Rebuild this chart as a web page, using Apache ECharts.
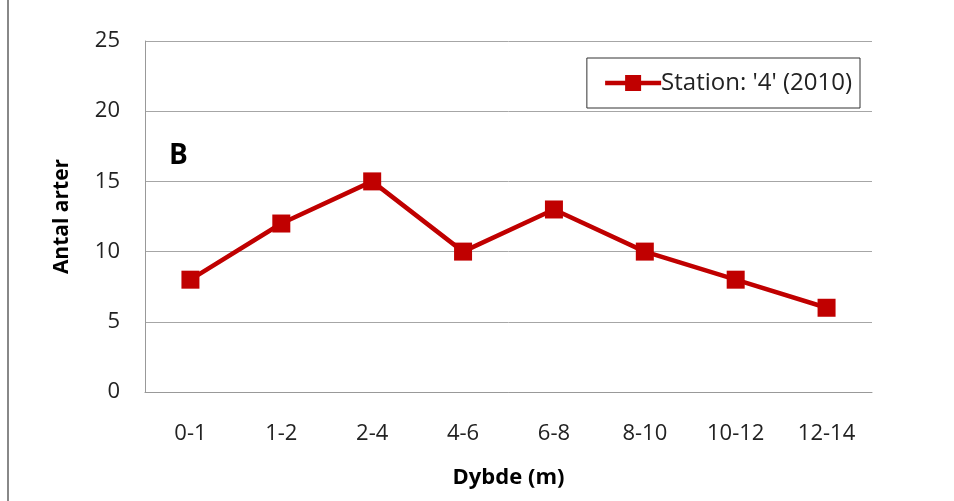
<!DOCTYPE html>
<html><head><meta charset="utf-8">
<script src="https://cdn.jsdelivr.net/npm/echarts@6/dist/echarts.min.js"></script>
<style>html,body{margin:0;padding:0;background:#fff}#c{width:954px;height:501px}</style>
</head><body><div id="c"></div>
<script>
var categories = ['0-1','1-2','2-4','4-6','6-8','8-10','10-12','12-14'];
var values = [8, 12, 15, 10, 13, 10, 8, 6];
var yTicks = [0, 5, 10, 15, 20, 25];
var seriesName = "Station: '4' (2010)";
var font = "'Open Sans', 'Liberation Sans', sans-serif";
var chart = echarts.init(document.getElementById('c'));
chart.setOption({
  animation: false,
  textStyle: {fontFamily: font},
  grid: {left: 145, right: 82, top: 41, bottom: 109, containLabel: false},
  graphic: [
    {type: 'rect', shape: {x: 7, y: 0, width: 2, height: 501}, style: {fill: '#888'}},
    {type: 'text', left: 169, top: 142, style: {text: 'B', font: 'bold 28px ' + font, fill: '#000'}}
  ],
  legend: {
    show: true, right: 94, top: 58, orient: 'horizontal',
    borderColor: '#333', borderWidth: 1, borderRadius: 0,
    padding: [13, 8, 13, 16],
    itemWidth: 56, itemHeight: 20, itemGap: 4,
    lineStyle: {width: 4.5, color: '#C00000'},
    textStyle: {fontSize: 24, color: '#222', fontFamily: font, padding: [0, 0, 0, -5]},
    data: [{name: seriesName}]
  },
  xAxis: {
    type: 'category', data: categories, boundaryGap: true,
    name: 'Dybde (m)', nameLocation: 'middle', nameGap: 75,
    nameTextStyle: {fontSize: 22, fontWeight: 'bold', color: '#000', fontFamily: font},
    axisLine: {lineStyle: {color: '#999', width: 1}},
    axisTick: {show: false},
    axisLabel: {fontSize: 22, color: '#222', margin: 31, fontFamily: font}
  },
  yAxis: {
    type: 'value', min: 0, max: 25, interval: 5,
    name: 'Antal arter', nameLocation: 'middle', nameGap: 72, nameRotate: 90,
    nameTextStyle: {fontSize: 21, fontWeight: 'bold', color: '#000', fontFamily: font},
    axisLine: {show: true, lineStyle: {color: '#999', width: 1}},
    axisTick: {show: false},
    splitLine: {lineStyle: {color: '#a6a6a6', width: 1}},
    axisLabel: {fontSize: 22, color: '#222', margin: 25, fontFamily: font,
      formatter: function(v){ return yTicks.indexOf(v) >= 0 ? String(v) : ''; }}
  },
  series: [{
    name: seriesName, type: 'line', data: values,
    symbol: 'rect', symbolSize: 18,
    lineStyle: {color: '#C00000', width: 4.5},
    itemStyle: {color: '#C00000'}
  }]
});
</script></body></html>
